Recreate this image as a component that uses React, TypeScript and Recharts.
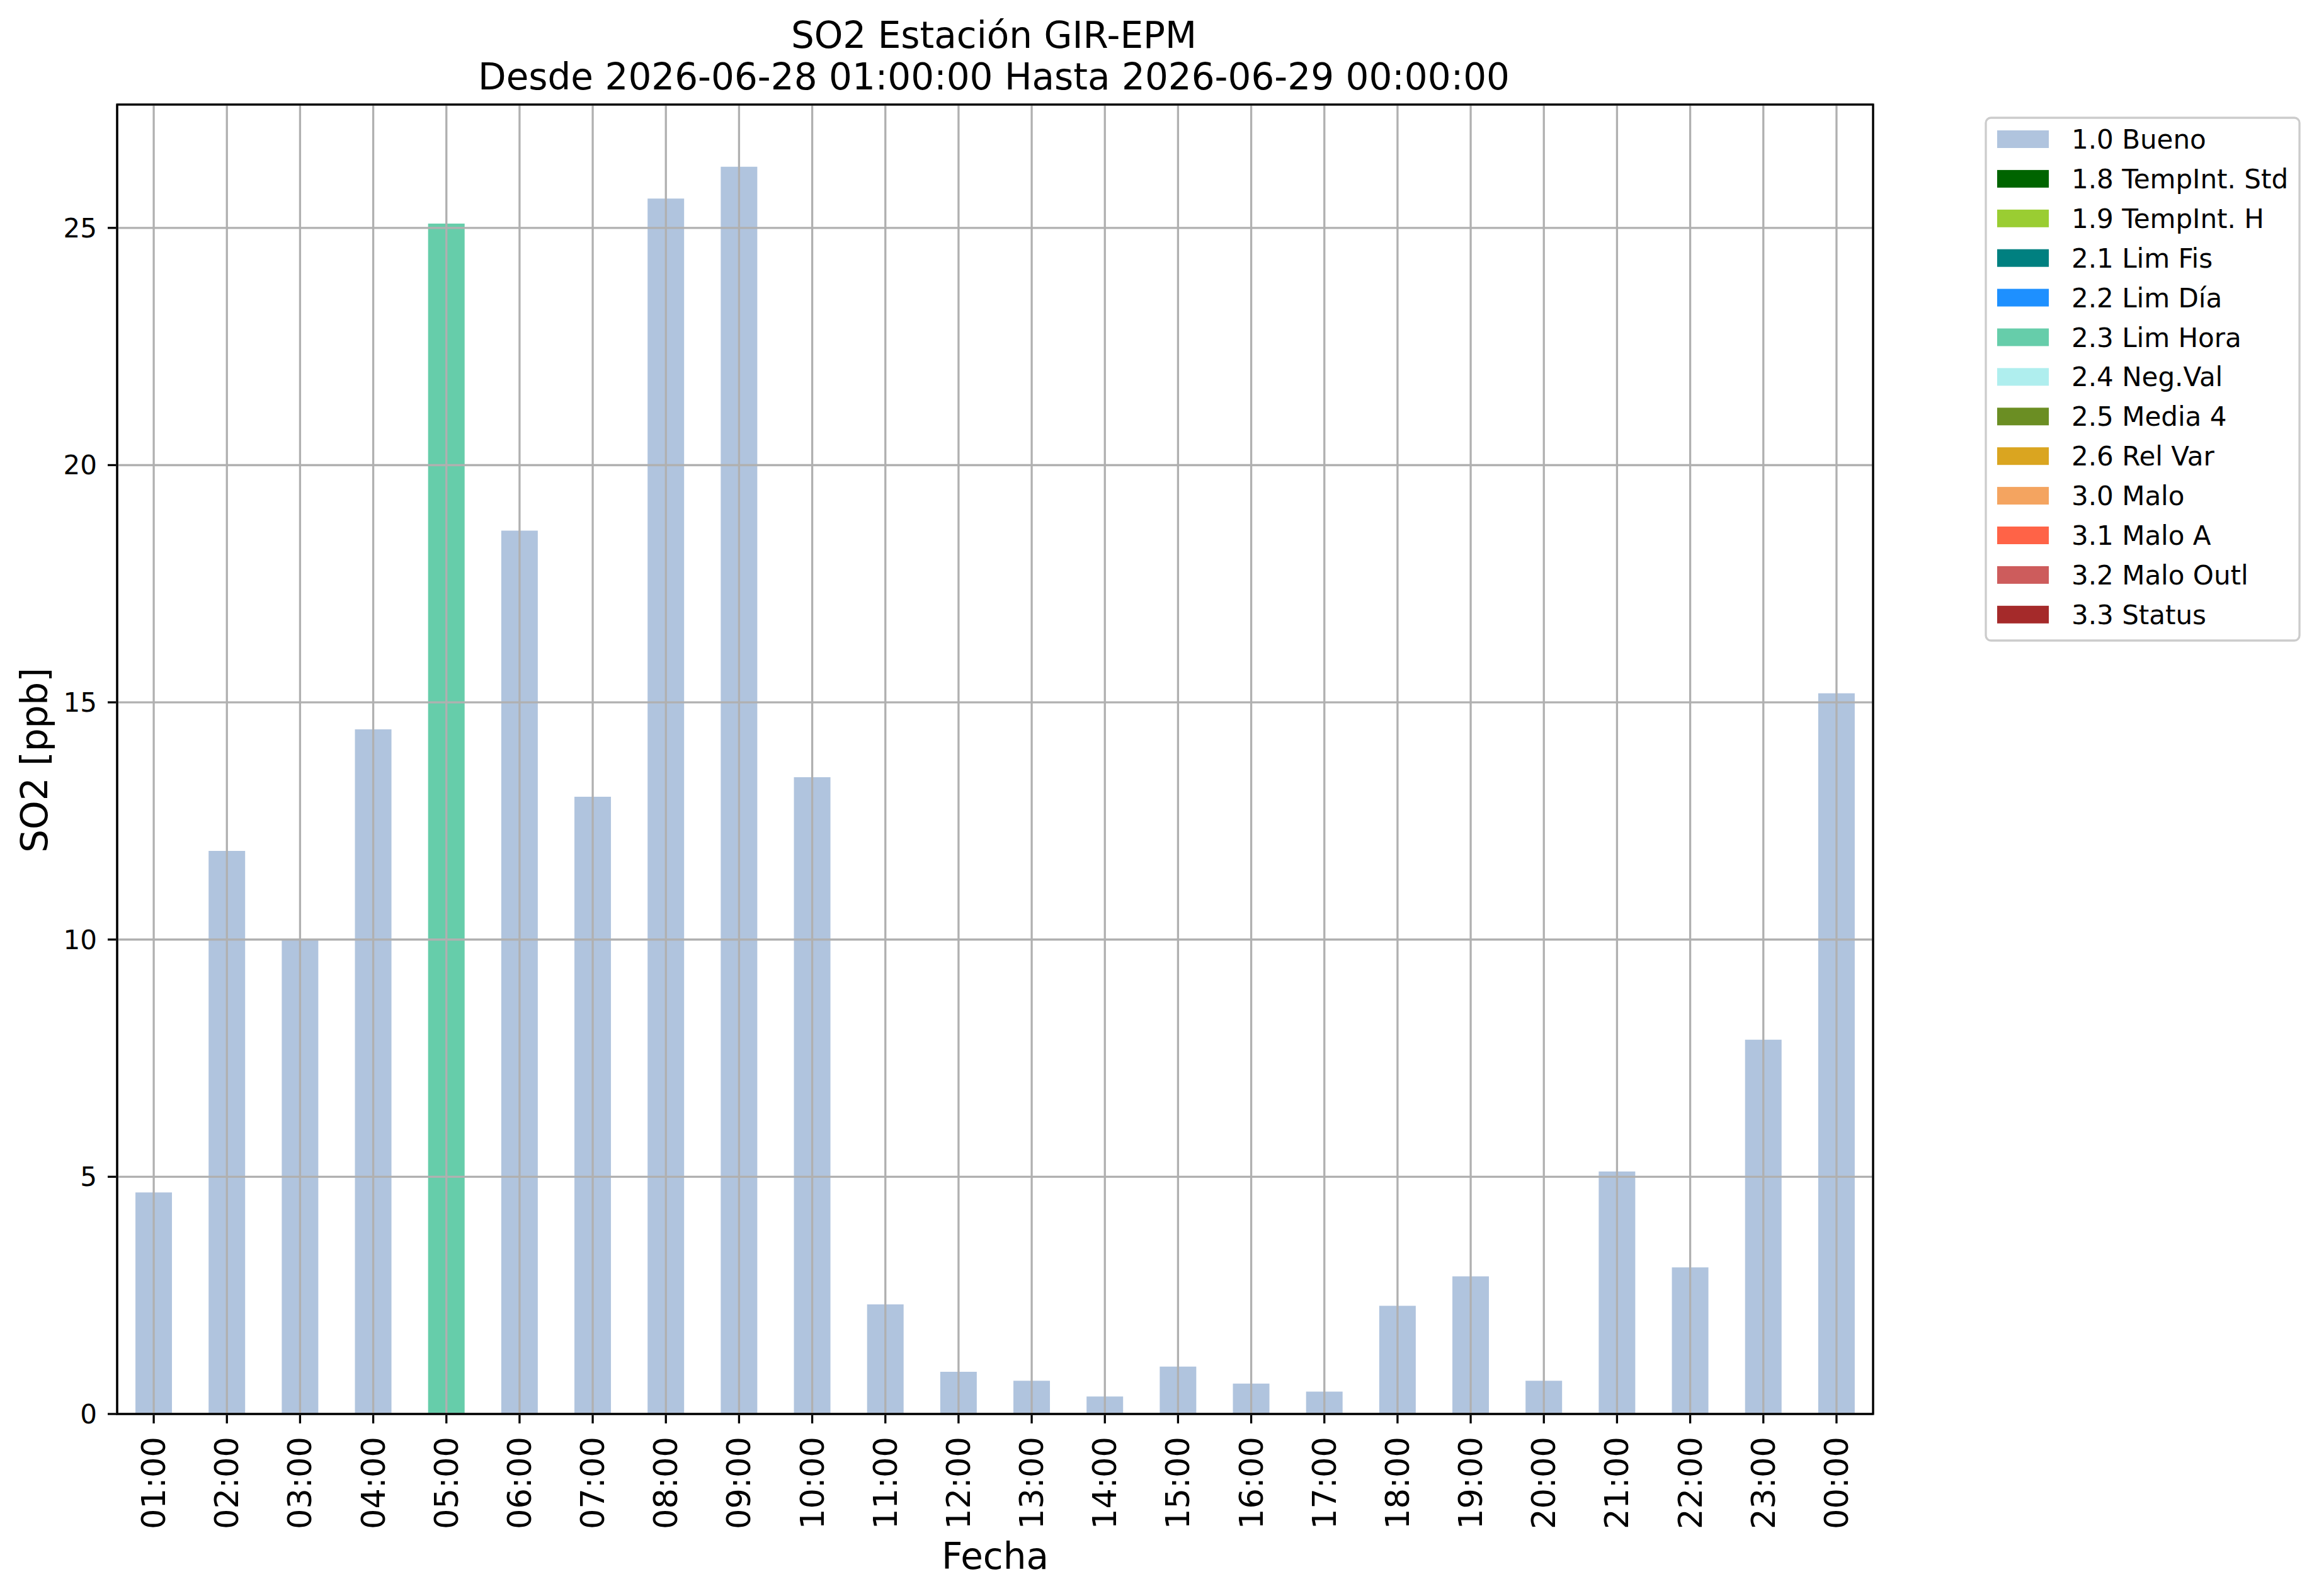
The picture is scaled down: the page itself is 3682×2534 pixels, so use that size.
import { BarChart, Bar, XAxis, YAxis, CartesianGrid, Cell } from 'recharts';

const HOURS = [
    '01:00', '02:00', '03:00', '04:00', '05:00', '06:00', '07:00', '08:00',
    '09:00', '10:00', '11:00', '12:00', '13:00', '14:00', '15:00', '16:00',
    '17:00', '18:00', '19:00', '20:00', '21:00', '22:00', '23:00', '00:00',
];

// SO2 hourly values in ppb
const SO2_PPB = [
    4.67, 11.87, 10.0, 14.43, 25.09, 18.62, 13.01, 25.62,
    26.29, 13.42, 2.31, 0.89, 0.70, 0.37, 1.00, 0.64,
    0.47, 2.28, 2.90, 0.70, 5.11, 3.09, 7.89, 15.19,
];

// quality flag of each hour
const HOUR_FLAGS = [
    '1.0 Bueno', '1.0 Bueno', '1.0 Bueno', '1.0 Bueno', '2.3 Lim Hora', '1.0 Bueno', '1.0 Bueno', '1.0 Bueno',
    '1.0 Bueno', '1.0 Bueno', '1.0 Bueno', '1.0 Bueno', '1.0 Bueno', '1.0 Bueno', '1.0 Bueno', '1.0 Bueno',
    '1.0 Bueno', '1.0 Bueno', '1.0 Bueno', '1.0 Bueno', '1.0 Bueno', '1.0 Bueno', '1.0 Bueno', '1.0 Bueno',
];

const FLAG_LABELS = [
    '1.0 Bueno', '1.8 TempInt. Std', '1.9 TempInt. H', '2.1 Lim Fis', '2.2 Lim Día',
    '2.3 Lim Hora', '2.4 Neg.Val', '2.5 Media 4', '2.6 Rel Var', '3.0 Malo',
    '3.1 Malo A', '3.2 Malo Outl', '3.3 Status',
];

const FLAG_COLORS = [
    '#b0c4de', '#006400', '#9acd32', '#008080', '#1e90ff',
    '#66cdaa', '#afeeee', '#6b8e23', '#daa520', '#f4a460',
    '#ff6347', '#cd5c5c', '#a52a2a',
];

const Y_TICKS = [0, 5, 10, 15, 20, 25];
const Y_MAX = 27.6;

const TITLE_LINES = ['SO2 Estación GIR-EPM', 'Desde 2026-06-28 01:00:00 Hasta 2026-06-29 00:00:00'];

const FONT = '"DejaVu Sans", sans-serif';
const LINE_W = 3.3;

// plot box (figure pixels)
const W = 3682;
const H = 2534;
const PLOT = { left: 186, top: 166, right: 2974, bottom: 2245 };
const Y_AXIS_W = 120;
const X_AXIS_H = 200;

function XTick({ x, y, payload }: any) {
    return (
        <g transform={`translate(${x},${y}) rotate(-90)`}>
            <text x={0} y={18} textAnchor="end" fontSize={51} fontFamily={FONT} fill="#000">
                {payload.value}
            </text>
        </g>
    );
}

function YTick({ x, y, payload }: any) {
    return (
        <text x={x} y={y} dy={15} textAnchor="end" fontSize={42} fontFamily={FONT} fill="#000">
            {payload.value}
        </text>
    );
}

export default function App() {
    const data = HOURS.map((hour, i) => ({ hour, value: SO2_PPB[i], flag: HOUR_FLAGS[i] }));
    const spine = { stroke: '#000', strokeWidth: LINE_W };

    return (
        <div style={{ position: 'absolute', left: 0, top: 0, width: W, height: H, background: '#fff' }}>
            <BarChart
                width={W}
                height={H}
                data={data}
                margin={{
                    top: PLOT.top,
                    right: W - PLOT.right,
                    bottom: H - PLOT.bottom - X_AXIS_H,
                    left: PLOT.left - Y_AXIS_W,
                }}
                barCategoryGap="25%"
            >
                <XAxis
                    dataKey="hour"
                    interval={0}
                    height={X_AXIS_H}
                    tickSize={15}
                    tickMargin={21}
                    tick={<XTick />}
                    axisLine={spine}
                    tickLine={spine}
                />
                <YAxis
                    type="number"
                    domain={[0, Y_MAX]}
                    ticks={Y_TICKS}
                    allowDataOverflow
                    width={Y_AXIS_W}
                    tickSize={15}
                    tickMargin={17}
                    tick={<YTick />}
                    axisLine={spine}
                    tickLine={spine}
                />
                <Bar dataKey="value" isAnimationActive={false}>
                    {data.map((d, i) => (
                        <Cell key={i} fill={FLAG_COLORS[FLAG_LABELS.indexOf(d.flag)]} />
                    ))}
                </Bar>
                <CartesianGrid stroke="#b0b0b0" strokeWidth={LINE_W} zIndex={600} />
            </BarChart>

            {/* frame, title, axis titles and legend */}
            <svg
                width={W}
                height={H}
                style={{ position: 'absolute', left: 0, top: 0, pointerEvents: 'none' }}
                fontFamily={FONT}
            >
                <rect
                    x={PLOT.left}
                    y={PLOT.top}
                    width={PLOT.right - PLOT.left}
                    height={PLOT.bottom - PLOT.top}
                    fill="none"
                    stroke="#000"
                    strokeWidth={LINE_W}
                />
                {TITLE_LINES.map((t, i) => (
                    <text key={i} x={1578} y={76 + i * 66} textAnchor="middle" fontSize={58} fill="#000">
                        {t}
                    </text>
                ))}
                <text x={1580} y={2491} textAnchor="middle" fontSize={58} fill="#000">Fecha</text>
                <text transform="translate(75,1207) rotate(-90)" textAnchor="middle" fontSize={58} fill="#000">
                    SO2 [ppb]
                </text>

                <rect x={3153} y={187} width={498} height={830} rx={8} fill="#fff" stroke="#cccccc" strokeWidth={LINE_W} />
                {FLAG_LABELS.map((label, i) => {
                    const cy = 221 + i * 62.9;
                    return (
                        <g key={label}>
                            <rect x={3171} y={cy - 14} width={82} height={28} fill={FLAG_COLORS[i]} />
                            <text x={3289} y={cy + 15} fontSize={42} fill="#000">{label}</text>
                        </g>
                    );
                })}
            </svg>
        </div>
    );
}
